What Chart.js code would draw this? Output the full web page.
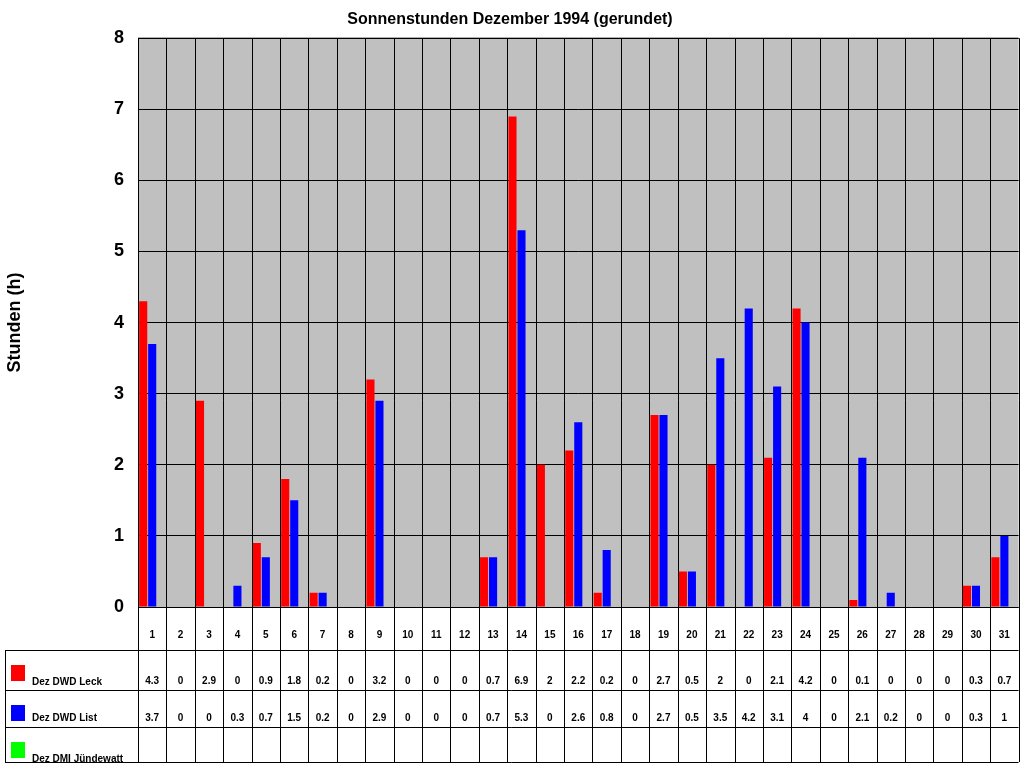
<!DOCTYPE html>
<html>
<head>
<meta charset="utf-8">
<script src="https://cdn.jsdelivr.net/npm/chart.js@4/dist/chart.umd.min.js"></script>
<style>body{margin:0;background:#fff}</style>
</head>
<body>
<canvas id="c" width="1024" height="768"></canvas>
<script>
const days = Array.from({length: 31}, (_, i) => String(i + 1));
const leck = [4.3,0,2.9,0,0.9,1.8,0.2,0,3.2,0,0,0,0.7,6.9,2,2.2,0.2,0,2.7,0.5,2,0,2.1,4.2,0,0.1,0,0,0,0.3,0.7];
const list = [3.7,0,0,0.3,0.7,1.5,0.2,0,2.9,0,0,0,0.7,5.3,0,2.6,0.8,0,2.7,0.5,3.5,4.2,3.1,4,0,2.1,0.2,0,0,0.3,1];
const juendewatt = Array(31).fill(null);
const seriesNames = ['Dez DWD Leck', 'Dez DWD List', 'Dez DMI Jündewatt'];
const seriesColors = ['#ff0000', '#0000ff', '#00ff00'];

const tablePlugin = {
    id: 'table',
    beforeDraw(chart) {
        const a = chart.chartArea, ctx = chart.ctx;
        ctx.save();
        ctx.fillStyle = '#c0c0c0';
        ctx.fillRect(a.left, a.top, a.right - a.left, a.bottom - a.top);
        ctx.restore();
    },
    afterDraw(chart) {
        const a = chart.chartArea, ctx = chart.ctx, x = chart.scales.x;
        const rows = [607, 650, 690, 727, 762];
        const step = (a.right - a.left) / days.length;
        ctx.save();
        ctx.strokeStyle = '#000';
        ctx.lineWidth = 1;
        ctx.beginPath();
        for (let i = 0; i <= days.length; i++) {
            const px = Math.round(a.left + i * step) + 0.5;
            ctx.moveTo(px, a.top); ctx.lineTo(px, rows[4]);
        }
        ctx.moveTo(a.right, a.top); ctx.lineTo(a.left, a.top);
        rows.forEach((r, i) => {
            ctx.moveTo(i === 0 ? a.left : 5, r + 0.5); ctx.lineTo(a.right, r + 0.5);
        });
        ctx.moveTo(5.5, rows[1]); ctx.lineTo(5.5, rows[4]);
        ctx.stroke();
        ctx.font = 'bold 10px Arial, "Liberation Sans"';
        ctx.textAlign = 'center';
        ctx.textBaseline = 'alphabetic';
        ctx.fillStyle = '#000';
        [leck, list, juendewatt].forEach((vals, r) => {
            vals.forEach((v, i) => {
                if (v === null) return;
                ctx.fillText(String(v), x.getPixelForValue(i), rows[r + 1] + 34 - (r === 1 ? 3 : 0));
            });
            ctx.fillStyle = seriesColors[r];
            ctx.fillRect(11, rows[r + 1] + 15, 14, 16);
            ctx.fillStyle = '#000';
            ctx.textAlign = 'left';
            ctx.fillText(seriesNames[r], 32, rows[r + 1] + 35 - (r === 1 ? 4 : 0));
            ctx.textAlign = 'center';
        });
        ctx.restore();
    }
};

new Chart(document.getElementById('c'), {
    type: 'bar',
    data: {
        labels: days,
        datasets: [
            { label: seriesNames[0], data: leck, backgroundColor: seriesColors[0] },
            { label: seriesNames[1], data: list, backgroundColor: seriesColors[1] },
            { label: seriesNames[2], data: juendewatt, backgroundColor: seriesColors[2] }
        ]
    },
    options: {
        responsive: false,
        animation: false,
        layout: { padding: { left: 0, right: 4, top: 0, bottom: 118 } },
        datasets: { bar: { categoryPercentage: 0.95, barPercentage: 0.9 } },
        scales: {
            x: {
                grid: { display: false },
                border: { display: false },
                ticks: { color: '#000', font: { family: 'Arial, "Liberation Sans"', size: 10, weight: 'bold' }, maxRotation: 0, padding: 14 },
                afterFit: s => { s.height = 43; }
            },
            y: {
                min: 0, max: 8,
                grid: { color: '#000', drawTicks: false },
                border: { color: '#000' },
                ticks: { stepSize: 1, color: '#000', padding: 14, font: { family: 'Arial, "Liberation Sans"', size: 18, weight: 'bold' } },
                title: { display: true, text: 'Stunden (h)', color: '#000', font: { family: 'Arial, "Liberation Sans"', size: 18, weight: 'bold' } },
                afterFit: s => { s.width = 138; }
            }
        },
        plugins: {
            legend: { display: false },
            tooltip: { enabled: false },
            title: { display: true, text: 'Sonnenstunden Dezember 1994 (gerundet)', color: '#000', padding: { top: 10, bottom: 9 }, font: { family: 'Arial, "Liberation Sans"', size: 16, weight: 'bold' } }
        }
    },
    plugins: [tablePlugin]
});
</script>
</body>
</html>
